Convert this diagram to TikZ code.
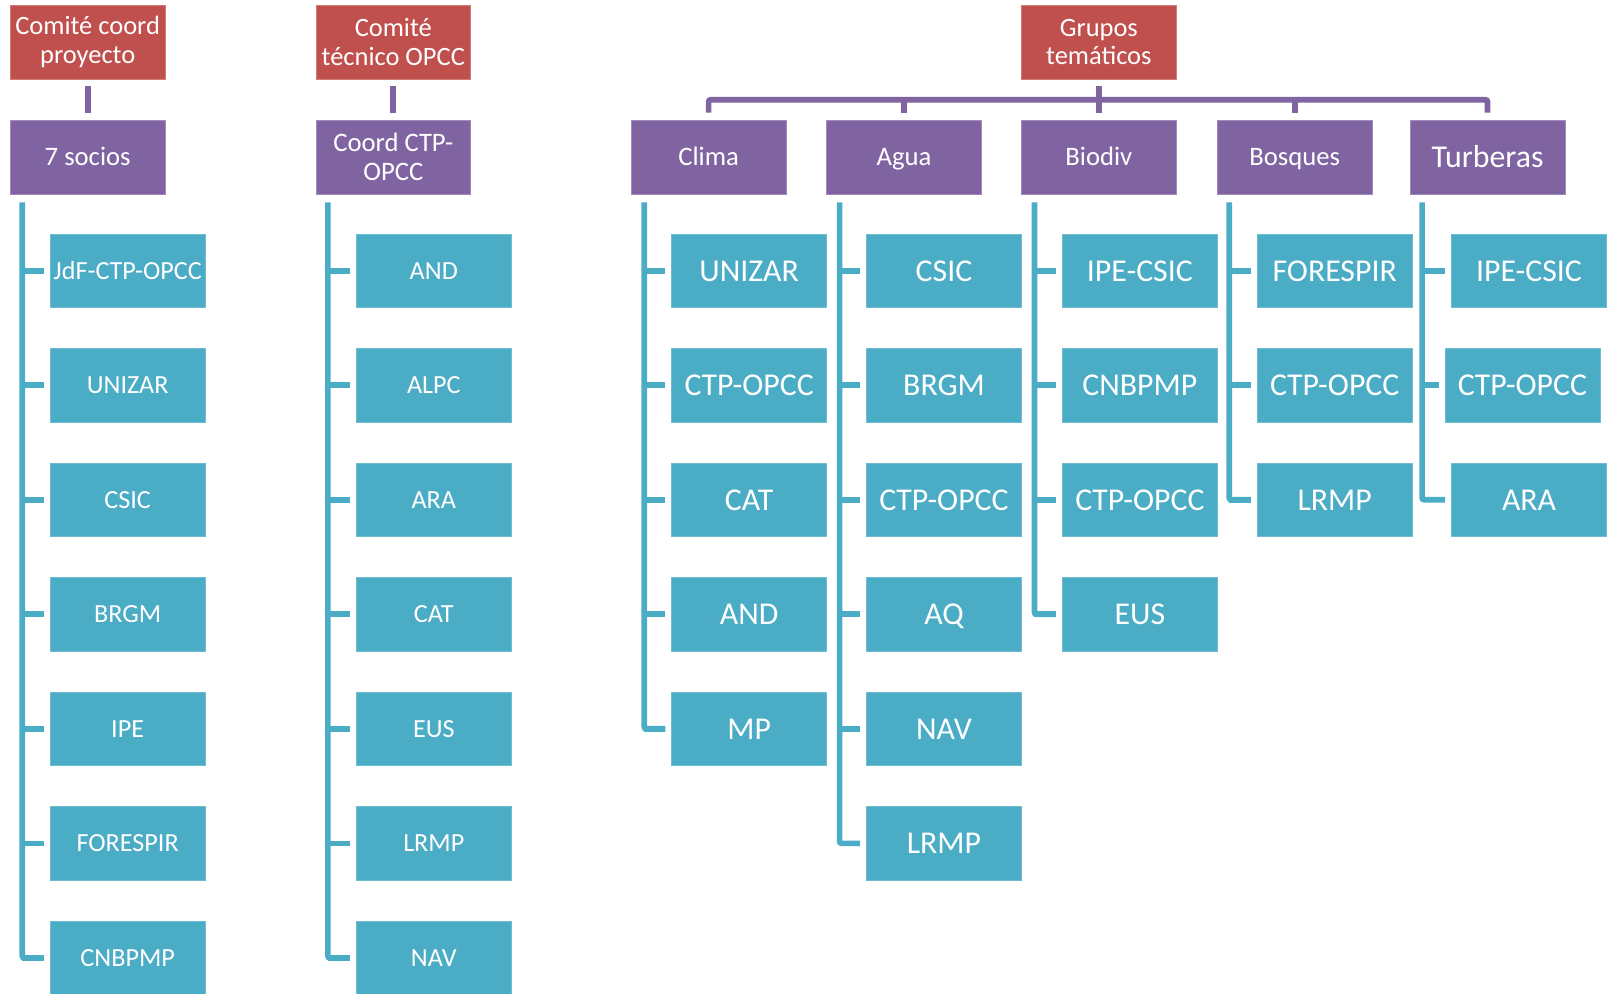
\documentclass[tikz,border=0pt]{standalone}
\usepackage{fontspec}
\setmainfont{Carlito}
\definecolor{cred}{HTML}{C0504D}
\definecolor{cpur}{HTML}{8064A2}
\definecolor{ccya}{HTML}{4BACC6}
\begin{document}
\begin{tikzpicture}[x=1pt,y=-1pt,
 box/.style={minimum width=151pt,minimum height=72pt,inner sep=0pt,text=white,align=center},
 redbox/.style={box,fill=cred,draw=cred!75!white,line width=0.6pt,font=\fontsize{25.8}{28}\selectfont},
 purbox/.style={box,fill=cpur,draw=cpur!75!white,line width=0.6pt,font=\fontsize{26}{28}\selectfont},
 pone/.style={text height=17pt,text depth=0pt},
 purbig/.style={purbox,font=\fontsize{31}{32}\selectfont,text height=20.5pt,text depth=0pt},
 cyabox/.style={box,fill=ccya,draw=ccya!80!white,line width=0.6pt,font=\fontsize{25.5}{28}\selectfont,text height=16.6pt,text depth=0pt},
 cyabig/.style={cyabox,font=\fontsize{31}{32}\selectfont,text height=20.5pt,text depth=0pt},
 pline/.style={draw=cpur,line width=5.5pt},
 cline/.style={draw=ccya,line width=5.5pt,rounded corners=2pt}]
\useasboundingbox[fill=white] (0,0) rectangle (1568,969);

% top red boxes
\node[redbox] (r1) at (85.5,41) {Comité coord\\proyecto};
\node[redbox] (r2) at (383.5,41) {Comité\\técnico OPCC};
\node[redbox] (r3) at (1071.5,41) {Grupos\\temáticos};

% purple boxes
\node[purbox,pone] (p1) at (85.5,153) {7 socios};
\node[purbox] (p2) at (383.5,153) {Coord CTP-\\OPCC};
\node[purbox,pone] (p3) at (691,153) {Clima};
\node[purbox,pone] (p4) at (881.5,153) {Agua};
\node[purbox,pone] (p5) at (1071.5,153) {Biodiv};
\node[purbox,pone] (p6) at (1262.5,153) {Bosques};
\node[purbig] (p7) at (1450.5,153) {Turberas};

% purple connectors
\draw[pline] ([yshift=-7pt]r1.south) -- ([yshift=7pt]p1.north);
\draw[pline] ([yshift=-7pt]r2.south) -- ([yshift=7pt]p2.north);
\coordinate (bar) at ([yshift=-20pt]r3.south);
\draw[pline,rounded corners=2pt] ([yshift=7pt]p3.north) |- (bar -| p7.north) -- ([yshift=7pt]p7.north);
\draw[pline] ([yshift=7pt]p4.north) -- (bar -| p4.north);
\draw[pline] ([yshift=7pt]p6.north) -- (bar -| p6.north);
\draw[pline] ([yshift=-7pt]r3.south) -- ([yshift=7pt]p5.north);

% column 1
\coordinate (aL) at ([xshift=12pt,yshift=-8pt]p1.south west);
\foreach \t [count=\i] in {JdF-CTP-OPCC,UNIZAR,CSIC,BRGM,IPE,FORESPIR,CNBPMP}{
  \node[cyabox] (a\i) at (124.5,{264+111.67*(\i-1)}) {\t};
  \draw[cline] (aL |- a\i.west) -- ([xshift=-6pt]a\i.west);
}
\draw[cline] (aL) |- ([xshift=-6pt]a7.west);

% column 2
\coordinate (bL) at ([xshift=12pt,yshift=-8pt]p2.south west);
\foreach \t [count=\i] in {AND,ALPC,ARA,CAT,EUS,LRMP,NAV}{
  \node[cyabox] (b\i) at (423,{264+111.67*(\i-1)}) {\t};
  \draw[cline] (bL |- b\i.west) -- ([xshift=-6pt]b\i.west);
}
\draw[cline] (bL) |- ([xshift=-6pt]b7.west);

% Clima
\coordinate (cL) at ([xshift=13pt,yshift=-8pt]p3.south west);
\foreach \t [count=\i] in {UNIZAR,CTP-OPCC,CAT,AND,MP}{
  \node[cyabig] (c\i) at (730.5,{264+111.67*(\i-1)}) {\t};
  \draw[cline] (cL |- c\i.west) -- ([xshift=-6pt]c\i.west);
}
\draw[cline] (cL) |- ([xshift=-6pt]c5.west);

% Agua
\coordinate (dL) at ([xshift=13pt,yshift=-8pt]p4.south west);
\foreach \t [count=\i] in {CSIC,BRGM,CTP-OPCC,AQ,NAV,LRMP}{
  \node[cyabig] (d\i) at (920.5,{264+111.67*(\i-1)}) {\t};
  \draw[cline] (dL |- d\i.west) -- ([xshift=-6pt]d\i.west);
}
\draw[cline] (dL) |- ([xshift=-6pt]d6.west);

% Biodiv
\coordinate (eL) at ([xshift=13pt,yshift=-8pt]p5.south west);
\foreach \t [count=\i] in {IPE-CSIC,CNBPMP,CTP-OPCC,EUS}{
  \node[cyabig] (e\i) at (1111.5,{264+111.67*(\i-1)}) {\t};
  \draw[cline] (eL |- e\i.west) -- ([xshift=-6pt]e\i.west);
}
\draw[cline] (eL) |- ([xshift=-6pt]e4.west);

% Bosques
\coordinate (fL) at ([xshift=12pt,yshift=-8pt]p6.south west);
\foreach \t [count=\i] in {FORESPIR,CTP-OPCC,LRMP}{
  \node[cyabig] (f\i) at (1301.5,{264+111.67*(\i-1)}) {\t};
  \draw[cline] (fL |- f\i.west) -- ([xshift=-6pt]f\i.west);
}
\draw[cline] (fL) |- ([xshift=-6pt]f3.west);

% Turberas
\coordinate (gL) at ([xshift=12pt,yshift=-8pt]p7.south west);
\node[cyabig] (g1) at (1491,264) {IPE-CSIC};
\node[cyabig] (g2) at (1484.5,375.67) {CTP-OPCC};
\node[cyabig] (g3) at (1491,487.33) {ARA};
\draw[cline] (gL |- g1.west) -- ([xshift=-6pt]g1.west);
\draw[cline] (gL |- g2.west) -- ([xshift=-6pt]g2.west);
\draw[cline] (gL) |- ([xshift=-6pt]g3.west);
\end{tikzpicture}
\end{document}
